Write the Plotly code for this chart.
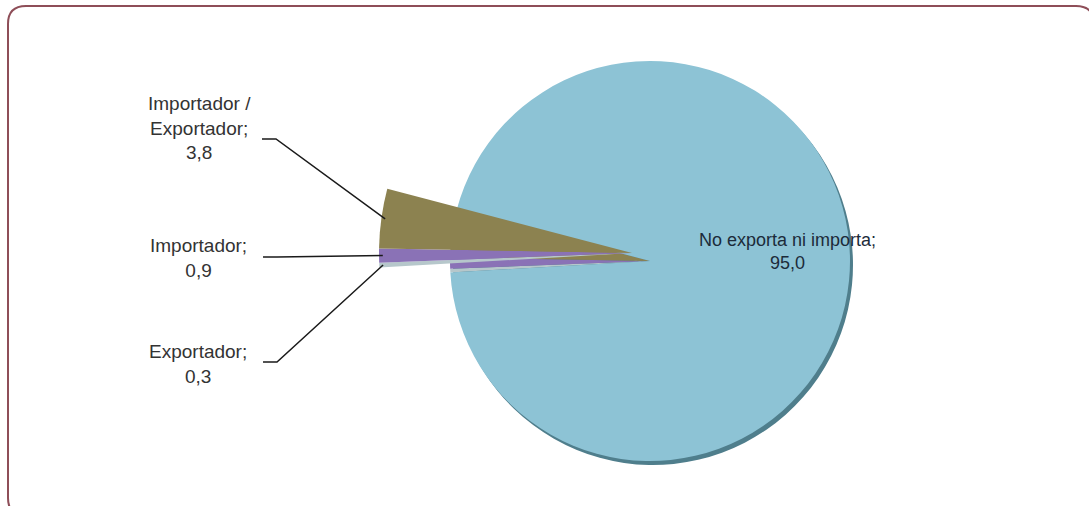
import math
import plotly.graph_objects as go

W, H = 1089, 506

# ---- data ----
labels = ["Exportador", "Importador", "Importador / Exportador", "No exporta ni importa"]
values = [0.3, 0.9, 3.8, 95.0]
colors = ["#B6C7CB", "#8A72B6", "#8C8250", "#8DC3D5"]
label_text = ["Exportador;", "Importador;", "Importador /<br>Exportador;", "No exporta ni importa;"]

ROT = 266.7
FONT = "Liberation Sans, Arial, sans-serif"

def fmt(v):
    return f"{v:.1f}".replace(".", ",")

def dom(cx, cy, r):
    return dict(x=[(cx - r) / W, (cx + r) / W], y=[1 - (cy + r) / H, 1 - (cy - r) / H])

def px(x, y):
    return f"{x / W:.5f},{1 - y / H:.5f}"

# main disc
MCX, MCY, MR = 650, 261, 200
# extended wedges
WCX, WCY, WR = 632, 253, 253

fig = go.Figure()

# shadow rim
fig.add_trace(go.Pie(
    labels=labels, values=values, sort=False, direction="clockwise", rotation=ROT,
    marker=dict(colors=["#4F7E8C"] * 4, line=dict(width=0)),
    textinfo="none", hoverinfo="skip", showlegend=False,
    domain=dom(MCX + 3, MCY + 4, MR),
))

# main pie
fig.add_trace(go.Pie(
    labels=labels, values=values, sort=False, direction="clockwise", rotation=ROT,
    marker=dict(colors=colors, line=dict(width=0)),
    textinfo="none", hoverinfo="label+value", showlegend=False,
    domain=dom(MCX, MCY, MR),
))

# protruding small wedges
wcolors = colors[:3] + ["rgba(0,0,0,0)"]
fig.add_trace(go.Pie(
    labels=labels, values=values, sort=False, direction="clockwise", rotation=ROT,
    marker=dict(colors=wcolors, line=dict(width=0)),
    textinfo="none", hoverinfo="skip", showlegend=False,
    domain=dom(WCX, WCY, WR),
))

# label positions: (text cx, text cy, leader start x, leader bend x, leader y)
label_pos = {0: (198, 364, 263, 277, 362),
             1: (198, 258, 263, 277, 257),
             2: (200, 128, 262, 276, 139)}
shapes = []
annotations = []
total = sum(values)
cum = ROT
for i, v in enumerate(values):
    a0 = cum
    a1 = cum + v / total * 360
    cum = a1
    if i == 3:
        annotations.append(dict(
            x=787 / W, y=1 - 251 / H, xref="paper", yref="paper", showarrow=False,
            xanchor="center", yanchor="middle",
            text=f"{label_text[i]}<br>{fmt(v)}", align="center",
            font=dict(family=FONT, size=18, color="#1C2B3A"),
        ))
        continue
    mid = math.radians((a0 + a1) / 2)
    r = WR * 0.985
    tx = WCX + r * math.sin(mid)
    ty = WCY - r * math.cos(mid)
    lx, ly, hx0, hx1, hy = label_pos[i]
    annotations.append(dict(
        x=lx / W, y=1 - ly / H, xref="paper", yref="paper", showarrow=False,
        xanchor="center", yanchor="middle",
        text=f"{label_text[i]}<br>{fmt(v)}", align="center",
        font=dict(family=FONT, size=19, color="#333333"),
    ))
    shapes.append(dict(
        type="path", xref="paper", yref="paper",
        path=f"M{px(hx0, hy)} L{px(hx1, hy)} L{px(tx, ty)}",
        line=dict(color="#1A1A1A", width=1.5),
    ))

# rounded border
x0, y0, x1, y1, rr = 8, 6, 1094, 516, 18
border = (f"M{px(x0 + rr, y0)} L{px(x1 - rr, y0)} Q{px(x1, y0)} {px(x1, y0 + rr)} "
          f"L{px(x1, y1 - rr)} Q{px(x1, y1)} {px(x1 - rr, y1)} "
          f"L{px(x0 + rr, y1)} Q{px(x0, y1)} {px(x0, y1 - rr)} "
          f"L{px(x0, y0 + rr)} Q{px(x0, y0)} {px(x0 + rr, y0)} Z")
shapes.append(dict(type="path", xref="paper", yref="paper", path=border,
                   line=dict(color="#8E4E58", width=2)))

fig.update_layout(
    width=W, height=H, margin=dict(l=0, r=0, t=0, b=0),
    paper_bgcolor="white", plot_bgcolor="white",
    shapes=shapes, annotations=annotations, showlegend=False,
)

fig.write_html("out.html")
